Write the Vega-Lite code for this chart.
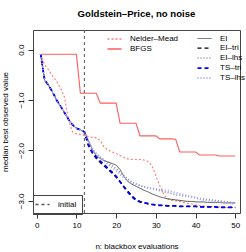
{
 "$schema": "https://vega.github.io/schema/vega-lite/v6.json",
 "autosize": "none",
 "width": 207,
 "height": 183,
 "padding": {"left": 33, "top": 30, "right": 6, "bottom": 39},
 "title": {"text": "Goldstein–Price, no noise", "font": "Liberation Sans", "fontSize": 9.6, "fontWeight": "bold", "anchor": "middle", "frame": "group", "baseline": "alphabetic", "offset": 2.5, "color": "#000"},
 "config": {
  "view": {"stroke": "#444", "strokeWidth": 1},
  "axis": {"grid": false, "domain": false, "tickSize": 5, "tickColor": "#333", "labelFont": "Liberation Sans", "labelFontSize": 8, "labelColor": "#000", "titleFont": "Liberation Sans", "titleFontSize": 8, "titleFontWeight": "normal", "titleColor": "#000"}
 },
 "data": {"values": [
  {"n":1,"Nelder–Mead":-0.09,"BFGS":-0.09,"EI":-0.09,"EI–tri":-0.09,"EI–lhs":-0.09,"TS–tri":-0.09,"TS–lhs":-0.09},
  {"n":2,"Nelder–Mead":-0.30,"BFGS":-0.09,"EI":-0.60,"EI–tri":-0.60,"EI–lhs":-0.60,"TS–tri":-0.60,"TS–lhs":-0.60},
  {"n":3,"Nelder–Mead":-0.40,"BFGS":-0.09,"EI":-0.71,"EI–tri":-0.71,"EI–lhs":-0.71,"TS–tri":-0.71,"TS–lhs":-0.71},
  {"n":4,"Nelder–Mead":-0.52,"BFGS":-0.09,"EI":-0.84,"EI–tri":-0.84,"EI–lhs":-0.84,"TS–tri":-0.84,"TS–lhs":-0.84},
  {"n":5,"Nelder–Mead":-0.63,"BFGS":-0.09,"EI":-1.00,"EI–tri":-1.00,"EI–lhs":-1.00,"TS–tri":-1.00,"TS–lhs":-1.00},
  {"n":6,"Nelder–Mead":-0.76,"BFGS":-0.09,"EI":-1.12,"EI–tri":-1.12,"EI–lhs":-1.12,"TS–tri":-1.12,"TS–lhs":-1.12},
  {"n":7,"Nelder–Mead":-0.94,"BFGS":-0.09,"EI":-1.25,"EI–tri":-1.25,"EI–lhs":-1.25,"TS–tri":-1.25,"TS–lhs":-1.25},
  {"n":8,"Nelder–Mead":-1.39,"BFGS":-0.09,"EI":-1.38,"EI–tri":-1.38,"EI–lhs":-1.38,"TS–tri":-1.38,"TS–lhs":-1.38},
  {"n":9,"Nelder–Mead":-1.63,"BFGS":-0.09,"EI":-1.49,"EI–tri":-1.49,"EI–lhs":-1.49,"TS–tri":-1.49,"TS–lhs":-1.49},
  {"n":10,"Nelder–Mead":-1.67,"BFGS":-0.09,"EI":-1.56,"EI–tri":-1.56,"EI–lhs":-1.56,"TS–tri":-1.56,"TS–lhs":-1.56},
  {"n":11,"Nelder–Mead":-1.68,"BFGS":-0.865,"EI":-1.59,"EI–tri":-1.59,"EI–lhs":-1.59,"TS–tri":-1.59,"TS–lhs":-1.59},
  {"n":12,"Nelder–Mead":-1.70,"BFGS":-0.865,"EI":-1.63,"EI–tri":-1.63,"EI–lhs":-1.63,"TS–tri":-1.63,"TS–lhs":-1.63},
  {"n":13,"Nelder–Mead":-1.72,"BFGS":-0.865,"EI":-1.80,"EI–tri":-1.86,"EI–lhs":-1.84,"TS–tri":-1.90,"TS–lhs":-1.83},
  {"n":14,"Nelder–Mead":-1.74,"BFGS":-0.865,"EI":-1.98,"EI–tri":-2.05,"EI–lhs":-1.98,"TS–tri":-2.04,"TS–lhs":-1.96},
  {"n":15,"Nelder–Mead":-1.75,"BFGS":-0.865,"EI":-2.10,"EI–tri":-2.16,"EI–lhs":-2.07,"TS–tri":-2.13,"TS–lhs":-2.06},
  {"n":16,"Nelder–Mead":-1.80,"BFGS":-1.06,"EI":-2.16,"EI–tri":-2.24,"EI–lhs":-2.13,"TS–tri":-2.21,"TS–lhs":-2.14},
  {"n":17,"Nelder–Mead":-1.94,"BFGS":-1.06,"EI":-2.20,"EI–tri":-2.31,"EI–lhs":-2.19,"TS–tri":-2.28,"TS–lhs":-2.21},
  {"n":18,"Nelder–Mead":-1.99,"BFGS":-1.06,"EI":-2.23,"EI–tri":-2.38,"EI–lhs":-2.24,"TS–tri":-2.36,"TS–lhs":-2.28},
  {"n":19,"Nelder–Mead":-2.03,"BFGS":-1.06,"EI":-2.26,"EI–tri":-2.45,"EI–lhs":-2.30,"TS–tri":-2.43,"TS–lhs":-2.34},
  {"n":20,"Nelder–Mead":-2.06,"BFGS":-1.06,"EI":-2.29,"EI–tri":-2.53,"EI–lhs":-2.36,"TS–tri":-2.51,"TS–lhs":-2.40},
  {"n":21,"Nelder–Mead":-2.10,"BFGS":-1.46,"EI":-2.38,"EI–tri":-2.62,"EI–lhs":-2.43,"TS–tri":-2.62,"TS–lhs":-2.47},
  {"n":22,"Nelder–Mead":-2.14,"BFGS":-1.46,"EI":-2.52,"EI–tri":-2.72,"EI–lhs":-2.50,"TS–tri":-2.73,"TS–lhs":-2.54},
  {"n":23,"Nelder–Mead":-2.17,"BFGS":-1.46,"EI":-2.62,"EI–tri":-2.81,"EI–lhs":-2.57,"TS–tri":-2.83,"TS–lhs":-2.60},
  {"n":24,"Nelder–Mead":-2.18,"BFGS":-1.46,"EI":-2.67,"EI–tri":-2.90,"EI–lhs":-2.62,"TS–tri":-2.92,"TS–lhs":-2.64},
  {"n":25,"Nelder–Mead":-2.18,"BFGS":-1.46,"EI":-2.71,"EI–tri":-2.97,"EI–lhs":-2.66,"TS–tri":-2.99,"TS–lhs":-2.67},
  {"n":26,"Nelder–Mead":-2.18,"BFGS":-1.71,"EI":-2.75,"EI–tri":-3.01,"EI–lhs":-2.69,"TS–tri":-3.02,"TS–lhs":-2.70},
  {"n":27,"Nelder–Mead":-2.19,"BFGS":-1.71,"EI":-2.79,"EI–tri":-3.04,"EI–lhs":-2.72,"TS–tri":-3.04,"TS–lhs":-2.72},
  {"n":28,"Nelder–Mead":-2.22,"BFGS":-1.71,"EI":-2.82,"EI–tri":-3.06,"EI–lhs":-2.74,"TS–tri":-3.05,"TS–lhs":-2.74},
  {"n":29,"Nelder–Mead":-2.30,"BFGS":-1.71,"EI":-2.86,"EI–tri":-3.07,"EI–lhs":-2.76,"TS–tri":-3.07,"TS–lhs":-2.75},
  {"n":30,"Nelder–Mead":-2.50,"BFGS":-1.71,"EI":-2.89,"EI–tri":-3.08,"EI–lhs":-2.78,"TS–tri":-3.08,"TS–lhs":-2.76},
  {"n":31,"Nelder–Mead":-2.70,"BFGS":-1.77,"EI":-2.92,"EI–tri":-3.09,"EI–lhs":-2.80,"TS–tri":-3.09,"TS–lhs":-2.78},
  {"n":32,"Nelder–Mead":-2.88,"BFGS":-1.77,"EI":-2.94,"EI–tri":-3.09,"EI–lhs":-2.82,"TS–tri":-3.09,"TS–lhs":-2.79},
  {"n":33,"Nelder–Mead":-2.96,"BFGS":-1.77,"EI":-2.96,"EI–tri":-3.10,"EI–lhs":-2.84,"TS–tri":-3.10,"TS–lhs":-2.80},
  {"n":34,"Nelder–Mead":-2.99,"BFGS":-1.77,"EI":-2.97,"EI–tri":-3.10,"EI–lhs":-2.86,"TS–tri":-3.10,"TS–lhs":-2.82},
  {"n":35,"Nelder–Mead":-3.00,"BFGS":-1.78,"EI":-2.98,"EI–tri":-3.10,"EI–lhs":-2.88,"TS–tri":-3.10,"TS–lhs":-2.84},
  {"n":36,"Nelder–Mead":-3.01,"BFGS":-2.03,"EI":-2.99,"EI–tri":-3.11,"EI–lhs":-2.89,"TS–tri":-3.11,"TS–lhs":-2.86},
  {"n":37,"Nelder–Mead":-3.03,"BFGS":-2.03,"EI":-3.00,"EI–tri":-3.11,"EI–lhs":-2.90,"TS–tri":-3.11,"TS–lhs":-2.88},
  {"n":38,"Nelder–Mead":-3.05,"BFGS":-2.03,"EI":-3.01,"EI–tri":-3.11,"EI–lhs":-2.91,"TS–tri":-3.11,"TS–lhs":-2.90},
  {"n":39,"Nelder–Mead":-3.06,"BFGS":-2.03,"EI":-3.01,"EI–tri":-3.11,"EI–lhs":-2.92,"TS–tri":-3.11,"TS–lhs":-2.92},
  {"n":40,"Nelder–Mead":-3.08,"BFGS":-2.03,"EI":-3.02,"EI–tri":-3.11,"EI–lhs":-2.93,"TS–tri":-3.11,"TS–lhs":-2.94},
  {"n":41,"Nelder–Mead":-3.09,"BFGS":-2.09,"EI":-3.02,"EI–tri":-3.12,"EI–lhs":-2.95,"TS–tri":-3.12,"TS–lhs":-2.96},
  {"n":42,"Nelder–Mead":-3.10,"BFGS":-2.09,"EI":-3.02,"EI–tri":-3.12,"EI–lhs":-2.96,"TS–tri":-3.12,"TS–lhs":-2.98},
  {"n":43,"Nelder–Mead":-3.11,"BFGS":-2.09,"EI":-3.03,"EI–tri":-3.12,"EI–lhs":-2.97,"TS–tri":-3.12,"TS–lhs":-2.99},
  {"n":44,"Nelder–Mead":-3.11,"BFGS":-2.09,"EI":-3.03,"EI–tri":-3.12,"EI–lhs":-2.98,"TS–tri":-3.12,"TS–lhs":-3.00},
  {"n":45,"Nelder–Mead":-3.12,"BFGS":-2.09,"EI":-3.03,"EI–tri":-3.12,"EI–lhs":-2.99,"TS–tri":-3.12,"TS–lhs":-3.01},
  {"n":46,"Nelder–Mead":-3.12,"BFGS":-2.11,"EI":-3.03,"EI–tri":-3.13,"EI–lhs":-3.00,"TS–tri":-3.13,"TS–lhs":-3.02},
  {"n":47,"Nelder–Mead":-3.12,"BFGS":-2.11,"EI":-3.04,"EI–tri":-3.13,"EI–lhs":-3.01,"TS–tri":-3.13,"TS–lhs":-3.03},
  {"n":48,"Nelder–Mead":-3.13,"BFGS":-2.11,"EI":-3.04,"EI–tri":-3.13,"EI–lhs":-3.02,"TS–tri":-3.13,"TS–lhs":-3.04},
  {"n":49,"Nelder–Mead":-3.13,"BFGS":-2.11,"EI":-3.04,"EI–tri":-3.13,"EI–lhs":-3.03,"TS–tri":-3.13,"TS–lhs":-3.05},
  {"n":50,"Nelder–Mead":-3.13,"BFGS":-2.11,"EI":-3.04,"EI–tri":-3.13,"EI–lhs":-3.04,"TS–tri":-3.13,"TS–lhs":-3.06}
 ]},
 "layer": [
  {
   "transform": [{"fold": ["Nelder–Mead", "BFGS"], "as": ["method", "value"]}],
   "mark": {"type": "line", "strokeWidth": 1.1},
   "encoding": {
    "x": {"field": "n", "type": "quantitative", "scale": {"domain": [-0.93, 51.18], "nice": false, "zero": false},
          "axis": {"values": [0, 10, 20, 30, 40, 50], "format": "d", "title": "n: blackbox evaluations", "labelPadding": 3, "titlePadding": 13}},
    "y": {"field": "value", "type": "quantitative", "scale": {"domain": [-3.24, 0.39], "nice": false, "zero": false},
          "axis": {"values": [0, -0.5, -1, -1.5, -2, -2.5, -3], "format": ".1f", "labelAngle": -90, "labelAlign": "center", "labelBaseline": "bottom", "labelPadding": 3, "title": "median best observed value", "titlePadding": 8}},
    "color": {"field": "method", "type": "nominal", "scale": {"domain": ["Nelder–Mead", "BFGS"], "range": ["#ff7a7a", "#ff5c5c"]},
              "legend": {"title": null, "orient": "none", "legendX": 77, "legendY": 4.5, "labelFont": "Liberation Sans", "labelFontSize": 8, "labelColor": "#000", "symbolType": "M-2,0H2", "symbolSize": 49, "labelOffset": 11, "rowPadding": 1, "padding": 0}},
    "strokeDash": {"field": "method", "type": "nominal", "scale": {"domain": ["Nelder–Mead", "BFGS"], "range": [[2, 2], [1, 0]]},
              "legend": {"title": null, "orient": "none", "legendX": 77, "legendY": 4.5, "labelFont": "Liberation Sans", "labelFontSize": 8, "labelColor": "#000", "symbolType": "M-2,0H2", "symbolSize": 49, "labelOffset": 11, "rowPadding": 1, "padding": 0}}
   }
  },
  {
   "transform": [{"fold": ["EI", "EI–tri", "EI–lhs", "TS–tri", "TS–lhs"], "as": ["method", "value"]}],
   "mark": {"type": "line"},
   "encoding": {
    "x": {"field": "n", "type": "quantitative"},
    "y": {"field": "value", "type": "quantitative"},
    "color": {"field": "method", "type": "nominal", "scale": {"domain": ["EI", "EI–tri", "EI–lhs", "TS–tri", "TS–lhs"], "range": ["#555555", "#000000", "#8c8c8c", "#0000ff", "#9d9dff"]},
              "legend": {"title": null, "orient": "none", "legendX": 167, "legendY": 4.5, "labelFont": "Liberation Sans", "labelFontSize": 8, "labelColor": "#000", "symbolType": "M-2,0H2", "symbolSize": 49, "labelOffset": 11, "rowPadding": 1, "padding": 0}},
    "strokeDash": {"field": "method", "type": "nominal", "scale": {"domain": ["EI", "EI–tri", "EI–lhs", "TS–tri", "TS–lhs"], "range": [[1, 0], [4, 3], [1, 2], [4, 3], [1, 2]]},
              "legend": {"title": null, "orient": "none", "legendX": 167, "legendY": 4.5, "labelFont": "Liberation Sans", "labelFontSize": 8, "labelColor": "#000", "symbolType": "M-2,0H2", "symbolSize": 49, "labelOffset": 11, "rowPadding": 1, "padding": 0}},
    "strokeWidth": {"field": "method", "type": "nominal", "scale": {"domain": ["EI", "EI–tri", "EI–lhs", "TS–tri", "TS–lhs"], "range": [1, 2, 1, 2, 1]},
              "legend": {"title": null, "orient": "none", "legendX": 167, "legendY": 4.5, "labelFont": "Liberation Sans", "labelFontSize": 8, "labelColor": "#000", "symbolType": "M-2,0H2", "symbolSize": 49, "labelOffset": 11, "rowPadding": 1, "padding": 0}}
   }
  },
  {
   "data": {"values": [{"n": 12, "label": "initial"}]},
   "mark": {"type": "rule", "color": "#555555", "strokeWidth": 1},
   "encoding": {
    "x": {"field": "n", "type": "quantitative"},
    "strokeDash": {"field": "label", "type": "nominal", "scale": {"range": [[3, 3]]},
              "legend": {"title": null, "orient": "none", "legendX": 0, "legendY": 165, "labelFont": "Liberation Sans", "labelFontSize": 8, "labelColor": "#000", "symbolType": "M-2,0H2", "symbolSize": 49, "labelOffset": 11, "symbolStrokeColor": "#555555", "padding": 5, "strokeColor": "#444444"}}
   }
  }
 ],
 "resolve": {"scale": {"color": "independent", "strokeDash": "independent", "strokeWidth": "independent"}}
}
